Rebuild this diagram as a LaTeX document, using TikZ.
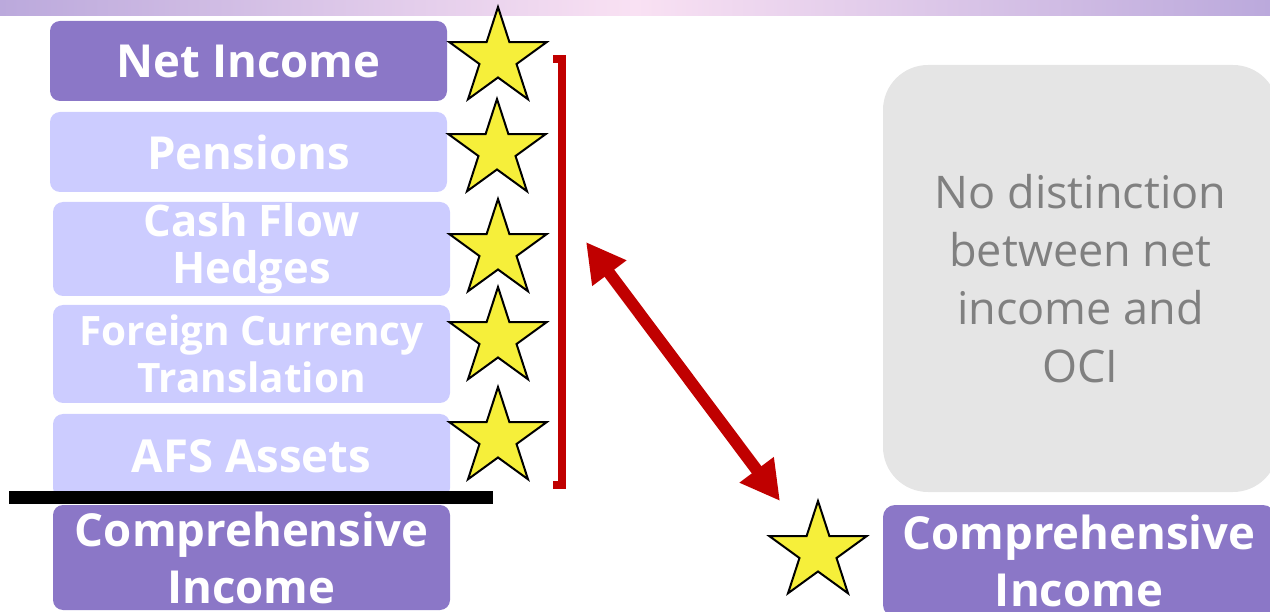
\documentclass[tikz,border=0pt]{standalone}
\usepackage{fontspec}
\setmainfont{Open Sans}
\usetikzlibrary{shapes.geometric,arrows.meta}
\definecolor{dpurple}{HTML}{8B77C7}
\definecolor{lpurple}{HTML}{CCCCFF}
\definecolor{gbox}{HTML}{E5E5E5}
\definecolor{gtext}{HTML}{808080}
\definecolor{bred}{HTML}{C00000}
\definecolor{staryellow}{HTML}{F6EF3A}
\definecolor{bandL}{HTML}{BBA9DC}
\definecolor{bandM}{HTML}{F9E1F3}
\begin{document}
\begin{tikzpicture}[x=1pt,y=-1pt,
  box/.style={rounded corners=10pt, inner sep=0pt, align=center, text=white},
  darkbox/.style={box, fill=dpurple},
  lightbox/.style={box, fill=lpurple},
  bigtxt/.style={font=\fontsize{45.5}{57}\selectfont\bfseries},
  cfhtxt/.style={font=\fontsize{43.5}{47}\selectfont\bfseries},
  fcttxt/.style={font=\fontsize{40.5}{47}\selectfont\bfseries},
  gstar/.style={star, star points=5, star point ratio=2.618, minimum size=102pt, inner sep=0pt, outer sep=0pt, fill=staryellow, draw=black, line width=2pt}
]
\useasboundingbox (0,0) rectangle (1270,612);
\clip (0,0) rectangle (1270,612);
% top band
\shade[left color=bandL, right color=bandL, middle color=bandM] (0,0) rectangle (1270,16);
% left column
\node[darkbox, bigtxt, minimum width=397pt, minimum height=80pt] (ni) at (248.5,61) {Net Income};
\node[lightbox, bigtxt, minimum width=397pt, minimum height=80pt] (pen) at (248.5,152) {Pensions};
\node[lightbox, cfhtxt, minimum width=397pt, minimum height=94pt] (cfh) at (251.5,249) {Cash Flow\\Hedges};
\node[lightbox, fcttxt, minimum width=397pt, minimum height=98pt] (fct) at (251.5,354) {Foreign Currency\\Translation};
\node[lightbox, bigtxt, minimum width=397pt, minimum height=84pt] (afs) at (251.5,456) {AFS Assets};
\coordinate (lineL) at (9,497.5);
\coordinate (lineR) at (493,497.5);
\draw[line width=13pt] (lineL) -- (lineR);
\node[darkbox, bigtxt, minimum width=397pt, minimum height=105pt] (ci) at (251.5,557.5) {Comprehensive\\Income};
% stars
\node[gstar] (s1) at (498,58) {};
\node[gstar] (s2) at (497,150) {};
\node[gstar] (s3) at (498,250) {};
\node[gstar] (s4) at (498,338) {};
\node[gstar] (s5) at (498,438) {};
% bracket
\coordinate (bt) at (553,59);
\coordinate (bb) at (553,485);
\draw[bred, line width=8pt] (bt) -- (562,59) -- (562,485) -- (bb);
% double arrow
\coordinate (aa) at (586,242);
\coordinate (ab) at (780,501);
\draw[bred, line width=12pt, {Triangle[length=39pt,width=40pt]}-{Triangle[length=39pt,width=40pt]}] (aa) -- (ab);
% right side
\node[rounded corners=45pt, fill=gbox, minimum width=395pt, minimum height=427pt, inner sep=0pt, align=center, text=gtext, font=\fontsize{45}{58}\selectfont] (nd) at (1080.5,278.5) {No distinction\\between net\\income and\\OCI};
\node[gstar] (s6) at (818,552) {};
\node[darkbox, bigtxt, rounded corners=12pt, minimum width=392pt, minimum height=112pt] (cr) at (1079,561) {Comprehensive\\Income};
\end{tikzpicture}
\end{document}
